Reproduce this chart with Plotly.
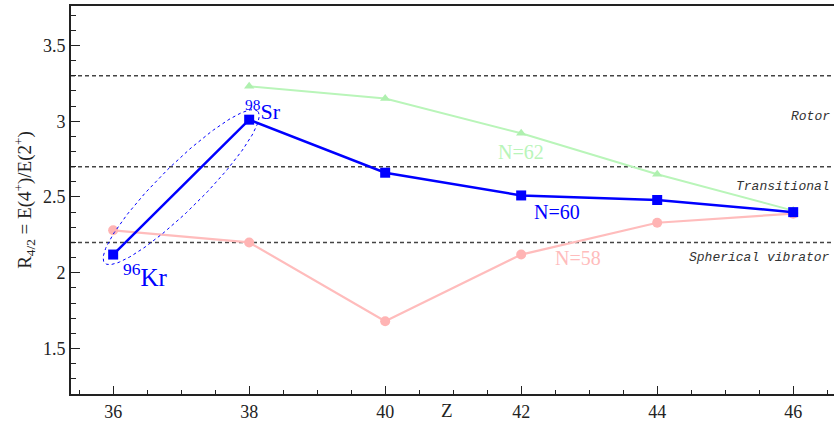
import numpy as np
import plotly.graph_objects as go

# ---- data ----
Z60 = [36, 38, 40, 42, 44, 46]
R60 = [2.12, 3.01, 2.66, 2.51, 2.48, 2.40]
Z58 = [36, 38, 40, 42, 44, 46]
R58 = [2.28, 2.20, 1.68, 2.12, 2.33, 2.39]
Z62 = [38, 40, 42, 44, 46]
R62 = [3.23, 3.15, 2.92, 2.65, 2.41]
ref_levels = [3.3, 2.7, 2.2]
ref_labels = ["Rotor", "Transitional", "Spherical vibrator"]
ref_label_y = [3.03, 2.57, 2.10]
x_ticks = [36, 38, 40, 42, 44, 46]
y_ticks = [1.5, 2, 2.5, 3, 3.5]
y_ticktext = ["1.5", "2", "2.5", "3", "3.5"]

W, H = 835, 421
ML, MR, MT, MB = 71, 1, 6, 27
XR = [35.38, 46.6]
YR = [1.2, 3.76]

BLUE = "#0000ff"
PINK = "rgb(255,188,188)"
GREEN = "rgb(185,245,185)"
SERIF = "Liberation Serif"

fig = go.Figure()

# reference lines
for lv in ref_levels:
    fig.add_shape(type="line", xref="paper", x0=0, x1=1, yref="y", y0=lv, y1=lv,
                  line=dict(color="#444444", width=1.5, dash="4px,3px"), layer="below")

fig.add_trace(go.Scatter(x=Z58, y=R58, mode="lines+markers",
                         line=dict(color=PINK, width=2.2),
                         marker=dict(symbol="circle", size=10, color="rgb(255,180,180)"),
                         showlegend=False))
fig.add_trace(go.Scatter(x=Z62, y=R62, mode="lines+markers",
                         line=dict(color=GREEN, width=2),
                         marker=dict(symbol="triangle-up", size=9, color="rgb(175,240,175)"),
                         showlegend=False))
fig.add_trace(go.Scatter(x=Z60, y=R60, mode="lines+markers",
                         line=dict(color=BLUE, width=2.5),
                         marker=dict(symbol="square", size=10, color=BLUE),
                         showlegend=False))

# ellipse around the 96Kr–98Sr pair, built in pixel space from the two points
pw = W - ML - MR
ph = H - MT - MB
sx = pw / (XR[1] - XR[0])
sy = ph / (YR[1] - YR[0])
p1 = np.array([Z60[0] * sx, R60[0] * sy])
p2 = np.array([Z60[1] * sx, R60[1] * sy])
c = (p1 + p2) / 2
d = p2 - p1
ang = np.arctan2(d[1], d[0])
a = np.linalg.norm(d) / 2 + 12
b = 22
t = np.linspace(0, 2 * np.pi, 200)
ex = c[0] + a * np.cos(t) * np.cos(ang) - b * np.sin(t) * np.sin(ang)
ey = c[1] + a * np.cos(t) * np.sin(ang) + b * np.sin(t) * np.cos(ang)
fig.add_trace(go.Scatter(x=ex / sx, y=ey / sy, mode="lines",
                         line=dict(color=BLUE, width=1, dash="dot"),
                         hoverinfo="skip", showlegend=False))

# labels
fig.add_annotation(x=Z60[0], y=R60[0], text="<sup>96</sup>Kr", showarrow=False,
                   xanchor="left", yanchor="top", xshift=8, yshift=-2,
                   font=dict(family=SERIF, size=25, color=BLUE))
fig.add_annotation(x=Z60[1], y=R60[1], text="<sup>98</sup>Sr", showarrow=False,
                   xanchor="left", yanchor="bottom", xshift=-6, yshift=-6,
                   font=dict(family=SERIF, size=22, color=BLUE))
fig.add_annotation(x=42.53, y=2.40, text="N=60", showarrow=False,
                   xanchor="center", yanchor="middle",
                   font=dict(family=SERIF, size=20, color=BLUE))
fig.add_annotation(x=42.0, y=2.80, text="N=62", showarrow=False,
                   xanchor="center", yanchor="middle",
                   font=dict(family=SERIF, size=20, color=GREEN))
fig.add_annotation(x=42.84, y=2.10, text="N=58", showarrow=False,
                   xanchor="center", yanchor="middle",
                   font=dict(family=SERIF, size=20, color=PINK))
for lab, ly in zip(ref_labels, ref_label_y):
    fig.add_annotation(x=0.997, xref="paper", y=ly, text="<i>" + lab + "</i>",
                       showarrow=False, xanchor="right", yanchor="middle",
                       font=dict(family="Liberation Mono", size=13, color="#333333"))

# x-axis title as annotation (sits level with the tick labels, as in the reference)
fig.add_annotation(x=0.493, xref="paper", y=0, yref="paper", text="Z", showarrow=False,
                   xanchor="center", yanchor="top", yshift=-4,
                   font=dict(family=SERIF, size=19, color="#222222"))

axis_common = dict(showgrid=False, zeroline=False, ticks="inside", automargin=False,
                   linecolor="#222222", linewidth=2, tickcolor="#222222",
                   tickfont=dict(family=SERIF, size=18, color="#222222"))

fig.update_xaxes(range=XR, tickvals=x_ticks, ticklen=8, tickwidth=1.2, mirror=True,
                 minor=dict(dtick=0.5, ticks="inside", ticklen=4, tickcolor="#222222"),
                 **axis_common)
fig.update_yaxes(range=YR, tickvals=y_ticks, ticktext=y_ticktext, ticklen=9, tickwidth=1.2,
                 minor=dict(dtick=0.1, tick0=0, ticks="inside", ticklen=5, tickcolor="#222222"),
                 title=dict(text="R<sub>4/2</sub> = E(4<sup>+</sup>)/E(2<sup>+</sup>)",
                            font=dict(family=SERIF, size=19, color="#222222"), standoff=6),
                 **axis_common)

fig.update_layout(width=W, height=H, margin=dict(l=ML, r=MR, t=MT, b=MB),
                  font=dict(family=SERIF, color="#222222"),
                  plot_bgcolor="white", paper_bgcolor="white", showlegend=False)

fig.write_html("out.html", config={"displayModeBar": False},
               post_script="document.body.style.margin='0';")
